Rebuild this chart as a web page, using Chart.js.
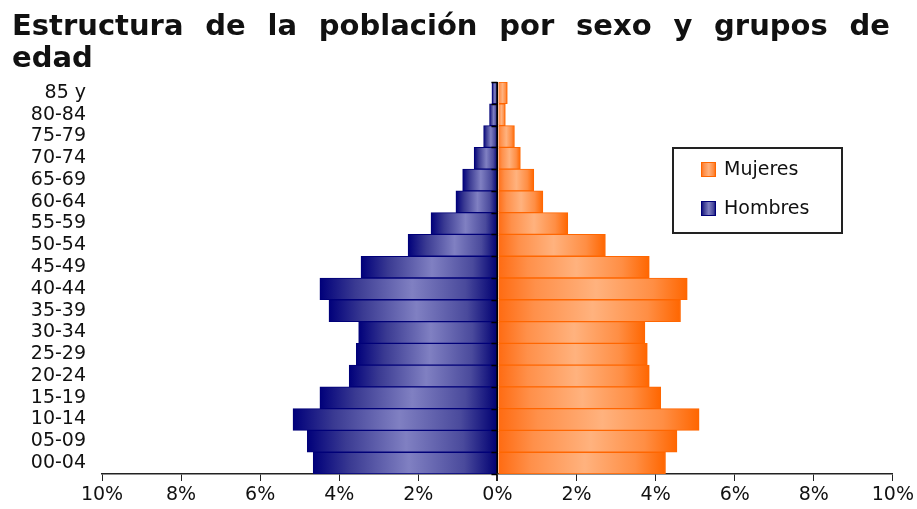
<!DOCTYPE html>
<html>

<head>
    <meta charset="utf-8">
    <script src="https://cdn.jsdelivr.net/npm/chart.js@4.4.1/dist/chart.umd.min.js"></script>
    <title>Estructura de la población por sexo y grupos de edad</title>
    <style>
        body { margin: 0; background: #fff; }
        #wrap { position: relative; width: 917px; height: 509px; }
        .title {
            position: absolute; left: 12px; width: 878px;
            font: bold 29px "DejaVu Sans", sans-serif; line-height: 32px; color: #111;
            white-space: nowrap;
        }
        #t1 { top: 9px; text-align: justify; text-align-last: justify; }
        #t2 { top: 41px; }
    </style>
</head>

<body>
    <div id="wrap">
        <div class="title" id="t1">Estructura de la población por sexo y grupos de</div>
        <div class="title" id="t2">edad</div>
        <canvas id="pyramid"></canvas>
    </div>
    <script>
        // age groups, top to bottom as in the picture
        const ageGroups = ['85 y', '80-84', '75-79', '70-74', '65-69', '60-64', '55-59', '50-54', '45-49',
            '40-44', '35-39', '30-34', '25-29', '20-24', '15-19', '10-14', '05-09', '00-04'];
        // percent of population
        const hombres = [0.14, 0.2, 0.35, 0.59, 0.88, 1.05, 1.68, 2.26, 3.45,
            4.49, 4.26, 3.51, 3.57, 3.75, 4.49, 5.17, 4.81, 4.66];
        const mujeres = [0.25, 0.2, 0.43, 0.58, 0.92, 1.15, 1.78, 2.73, 3.84,
            4.8, 4.63, 3.73, 3.79, 3.84, 4.13, 5.1, 4.54, 4.25];
        const xTicks = [-10, -8, -6, -4, -2, 0, 2, 4, 6, 8, 10];

        const FONT = { family: '"DejaVu Sans", sans-serif', size: 19 };
        const blueStops = ['#00007a', '#3a3a92', '#8080c2', '#4a4a9c', '#000072'];
        const orangeStops = ['#ff6a10', '#ff904a', '#ffb27e', '#ff8e44', '#ff6600'];

        const makeGradient = (c, x0, x1, stops) => {
            const g = c.createLinearGradient(x0, 0, x1, 0);
            g.addColorStop(0, stops[0]);
            g.addColorStop(0.2, stops[1]);
            g.addColorStop(0.52, stops[2]);
            g.addColorStop(0.82, stops[3]);
            g.addColorStop(1, stops[4]);
            return g;
        };

        const barFill = (stops) => (ctx) => {
            const chart = ctx.chart;
            const xs = chart.scales.x;
            if (ctx.type !== 'data' || !xs || !chart.chartArea) return stops[2];
            const p0 = xs.getPixelForValue(0);
            const p1 = xs.getPixelForValue(ctx.raw);
            return makeGradient(chart.ctx, Math.min(p0, p1), Math.max(p0, p1), stops);
        };

        // legend box and little ticks on the centre axis
        const extras = {
            id: 'extras',
            afterDraw(chart) {
                const c = chart.ctx;
                const ys = chart.scales.y;
                const xs = chart.scales.x;
                const x0 = xs.getPixelForValue(0);
                c.save();
                c.strokeStyle = '#000';
                c.lineWidth = 1.5;
                for (let i = 0; i <= ageGroups.length; i++) {
                    const y = Math.round(ys.getPixelForValue(i - 0.5)) + 0.5;
                    c.beginPath();
                    c.moveTo(x0 - 6, y);
                    c.lineTo(x0, y);
                    c.stroke();
                }

                c.lineWidth = 2;
                c.strokeStyle = '#222';
                c.strokeRect(673, 148, 169, 85);
                const items = chart.data.datasets.slice().reverse();
                items.forEach((ds, i) => {
                    const y = 162 + i * 39;
                    c.fillStyle = makeGradient(c, 701, 716, ds.stops);
                    c.fillRect(701, y, 15, 15);
                    c.lineWidth = 1;
                    c.strokeStyle = ds.borderColor;
                    c.strokeRect(701.5, y + 0.5, 14, 14);
                    c.fillStyle = '#111';
                    c.font = '19px "DejaVu Sans", sans-serif';
                    c.textBaseline = 'middle';
                    c.fillText(ds.label, 724, y + 8);
                });
                c.restore();
            }
        };

        new Chart(document.getElementById('pyramid'), {
            type: 'bar',
            data: {
                labels: ageGroups,
                datasets: [
                    {
                        label: 'Hombres',
                        data: hombres.map(v => -v),
                        stops: blueStops,
                        backgroundColor: barFill(blueStops),
                        borderColor: '#000078',
                        borderWidth: 1,
                        barPercentage: 1,
                        categoryPercentage: 1
                    },
                    {
                        label: 'Mujeres',
                        data: mujeres,
                        stops: orangeStops,
                        backgroundColor: barFill(orangeStops),
                        borderColor: '#ff6600',
                        borderWidth: 1,
                        barPercentage: 1,
                        categoryPercentage: 1
                    }
                ]
            },
            options: {
                indexAxis: 'y',
                responsive: true,
                maintainAspectRatio: false,
                animation: false,
                layout: { padding: { top: 82, left: 10, right: 0, bottom: 0 } },
                plugins: {
                    legend: { display: false },
                    tooltip: { enabled: false }
                },
                scales: {
                    x: {
                        stacked: true,
                        min: -10,
                        max: 10,
                        z: 1,
                        afterBuildTicks: (s) => { s.ticks = xTicks.map(v => ({ value: v })); },
                        afterFit: (s) => { s.height = 35; },
                        ticks: {
                            font: FONT,
                            color: '#111',
                            padding: 3,
                            maxRotation: 0,
                            callback: (v) => Math.abs(v) + '%'
                        },
                        grid: {
                            color: (ctx) => ctx.tick && ctx.tick.value === 0 ? '#000' : 'rgba(0,0,0,0)',
                            lineWidth: (ctx) => ctx.tick && ctx.tick.value === 0 ? 2 : 1,
                            tickColor: '#222',
                            tickLength: 7
                        },
                        border: { display: true, color: '#222', width: 1.5 }
                    },
                    y: {
                        stacked: true,
                        afterFit: (s) => { s.width = 92; },
                        ticks: {
                            font: FONT,
                            color: '#111',
                            padding: 16,
                            autoSkip: false
                        },
                        grid: { display: false, drawTicks: false },
                        border: { display: false }
                    }
                }
            },
            plugins: [extras]
        });
    </script>
</body>

</html>
